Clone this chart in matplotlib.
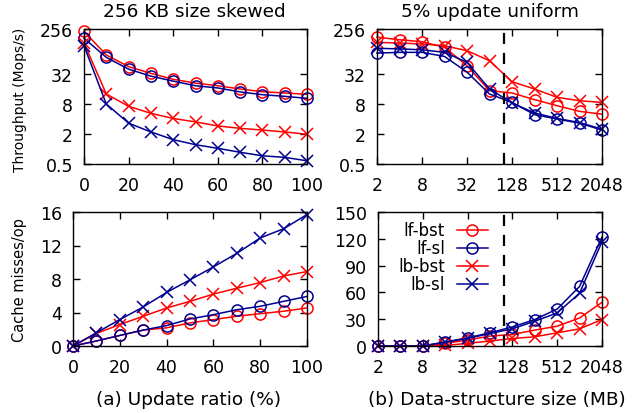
import matplotlib.pyplot as plt
from matplotlib.ticker import NullLocator

RED = "#ff0000"
BLUE = "#000090"

# (a) update ratio (%)
ratio = [0, 10, 20, 30, 40, 50, 60, 70, 80, 90, 100]
tp_a_lf_bst = [230, 77, 45, 33, 25, 21, 18.6, 16, 14.1, 13.3, 12.5]
tp_a_lf_sl = [167, 69, 40, 29, 23, 18.6, 16.8, 14, 12.3, 11.4, 10.4]
tp_a_lb_bst = [134, 12.7, 7.2, 5.2, 4.1, 3.5, 2.9, 2.6, 2.4, 2.2, 1.97]
tp_a_lb_sl = [118, 8, 3.3, 2.2, 1.54, 1.22, 1.03, 0.86, 0.73, 0.68, 0.58]

cm_a_lf_bst = [0, 0.6, 1.26, 1.9, 2.17, 2.76, 3.15, 3.55, 3.86, 4.15, 4.54]
cm_a_lf_sl = [0, 0.6, 1.26, 1.9, 2.44, 3.23, 3.74, 4.33, 4.74, 5.33, 5.92]
cm_a_lb_bst = [0, 1.5, 2.56, 3.55, 4.54, 5.33, 6.2, 6.9, 7.58, 8.36, 8.89]
cm_a_lb_sl = [0, 1.58, 3.15, 4.66, 6.4, 7.9, 9.44, 11.06, 12.9, 14.0, 15.7]

# (b) data-structure size (MB)
size = [2, 4, 8, 16, 32, 64, 128, 256, 512, 1024, 2048]
tp_b_lf_bst = [175, 156, 142, 110, 47, 14.8, 13.3, 9.8, 7.4, 5.7, 5.0]
tp_b_lf_sl = [84, 87, 87, 72, 35, 12.7, 8.6, 4.9, 4.0, 3.3, 2.4]
tp_b_lb_bst = [138, 134, 128, 118, 94, 59, 22.4, 16, 10.9, 9.3, 8.6]
tp_b_lb_sl = [105, 102, 98, 87, 55, 16, 8.4, 5.3, 4.1, 3.4, 2.5]

cm_b_lf_bst = [0, 0, 0, 2.9, 6.7, 11.1, 12.9, 17.8, 22.2, 31.4, 48.9]
cm_b_lf_sl = [0, 0, 0, 4.4, 9.2, 14.8, 21.4, 29.6, 41.4, 66.7, 122]
cm_b_lb_bst = [0, 0, 0, 0.7, 2.9, 5.6, 8.4, 10.3, 14.8, 19.2, 29.6]
cm_b_lb_sl = [0, 0, 0, 4.4, 8.4, 14, 19.2, 27.8, 37, 59.2, 116.7]

cache_line = 100  # MB, dashed marker

styles = {
    "lf-bst": dict(color=RED, marker="o", mfc="none"),
    "lf-sl": dict(color=BLUE, marker="o", mfc="none"),
    "lb-bst": dict(color=RED, marker="x"),
    "lb-sl": dict(color=BLUE, marker="x"),
}

plt.rcParams["font.family"] = "DejaVu Sans"
plt.rcParams["font.size"] = 12

W, H = 644, 414
fig = plt.figure(figsize=(W / 100, H / 100), dpi=100)


def box(x0, x1, y0, y1):
    return [x0 / W, 1 - y1 / H, (x1 - x0) / W, (y1 - y0) / H]


ax_tl = fig.add_axes(box(84, 307, 30, 165))
ax_tr = fig.add_axes(box(377, 602, 30, 165))
ax_bl = fig.add_axes(box(73, 307, 213, 347))
ax_br = fig.add_axes(box(378, 602, 213, 347))


def draw(ax, x, series):
    for name, ys in series:
        ax.plot(x, ys, label=name, lw=1.1, ms=8, mew=1.1, clip_on=False,
                **styles[name])


draw(ax_tl, ratio, [("lf-bst", tp_a_lf_bst), ("lf-sl", tp_a_lf_sl),
                    ("lb-bst", tp_a_lb_bst), ("lb-sl", tp_a_lb_sl)])
draw(ax_tr, size, [("lf-bst", tp_b_lf_bst), ("lf-sl", tp_b_lf_sl),
                   ("lb-bst", tp_b_lb_bst), ("lb-sl", tp_b_lb_sl)])
draw(ax_bl, ratio, [("lf-bst", cm_a_lf_bst), ("lf-sl", cm_a_lf_sl),
                    ("lb-bst", cm_a_lb_bst), ("lb-sl", cm_a_lb_sl)])
draw(ax_br, size, [("lf-bst", cm_b_lf_bst), ("lf-sl", cm_b_lf_sl),
                   ("lb-bst", cm_b_lb_bst), ("lb-sl", cm_b_lb_sl)])

for ax in (ax_tl, ax_tr):
    ax.set_yscale("log", base=2)
    ax.set_ylim(0.5, 256)
    ax.set_yticks([0.5, 2, 8, 32, 256])
    ax.set_yticklabels(["0.5", "2", "8", "32", "256"])
    ax.yaxis.set_minor_locator(NullLocator())

for ax in (ax_tl, ax_bl):
    ax.set_xlim(0, 100)
    ax.set_xticks(ratio[::2])
    ax.set_xticklabels([str(v) for v in ratio[::2]])

for ax in (ax_tr, ax_br):
    ax.set_xscale("log", base=2)
    ax.set_xlim(2, 2048)
    ax.set_xticks([2, 8, 32, 128, 512, 2048])
    ax.set_xticklabels(["2", "8", "32", "128", "512", "2048"])
    ax.xaxis.set_minor_locator(NullLocator())
    ax.axvline(cache_line, color="black", ls=(0, (5, 4)), lw=1.6)

ax_bl.set_ylim(0, 16)
ax_bl.set_yticks([0, 4, 8, 12, 16])
ax_br.set_ylim(0, 150)
ax_br.set_yticks([0, 30, 60, 90, 120, 150])

for ax in (ax_tl, ax_tr, ax_bl, ax_br):
    ax.tick_params(direction="in", top=True, right=True, length=5, width=1,
                   labelsize=12.5)
    ax.tick_params(axis="x", pad=9)
    ax.tick_params(axis="y", pad=8)
    for sp in ax.spines.values():
        sp.set_linewidth(1)

ax_br.legend(loc="upper left", markerfirst=False, frameon=False, fontsize=12,
             handlelength=1.9, handletextpad=0.7, labelspacing=0.0,
             borderaxespad=0.0, bbox_to_anchor=(0.06, 0.98))

fig.text(194 / W, 1 - 12 / H, "256 KB size skewed", ha="center", va="center",
         fontsize=13.3)
fig.text(490 / W, 1 - 12 / H, "5% update uniform", ha="center", va="center",
         fontsize=13.3)
fig.text(20 / W, 1 - 100 / H, "Throughput (Mops/s)", rotation=90, ha="center",
         va="center", fontsize=10)
fig.text(20 / W, 1 - 280 / H, "Cache misses/op", rotation=90, ha="center",
         va="center", fontsize=10.5)
fig.text(189 / W, 1 - 400 / H, "(a) Update ratio (%)", ha="center",
         va="center", fontsize=13.3)
fig.text(497 / W, 1 - 400 / H, "(b) Data-structure size (MB)", ha="center",
         va="center", fontsize=13.3)

fig.savefig("out.png", dpi=100)
